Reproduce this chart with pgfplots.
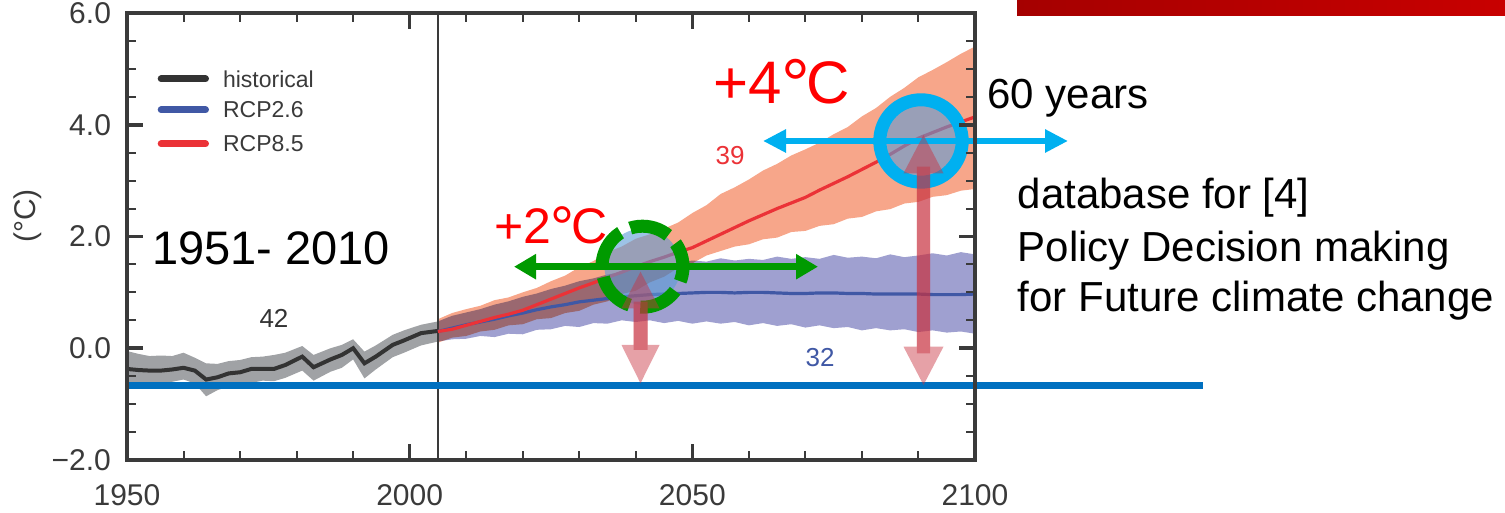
\documentclass[border=0pt]{standalone}
\usepackage{fontspec}
\setmainfont{Liberation Sans}
\usepackage{graphicx}
\usepackage{pgfplots}
\usepackage{pgfplotstable}
\pgfplotsset{compat=1.18}
\usepgfplotslibrary{fillbetween}
\usetikzlibrary{arrows.meta}

\definecolor{histline}{HTML}{333333}
\definecolor{histband}{HTML}{A0A2A5}
\definecolor{blueline}{HTML}{4058A5}
\definecolor{blueband}{HTML}{9FA0D0}
\definecolor{redline}{HTML}{EB3237}
\definecolor{redband}{HTML}{F7A68A}
\definecolor{axcol}{HTML}{3A3A3A}
\definecolor{baseblue}{HTML}{0070C0}
\definecolor{disc}{HTML}{5B9BD5}
\definecolor{cyanc}{HTML}{00B0F0}
\definecolor{greenc}{HTML}{009A00}
\definecolor{pinkc}{HTML}{C83240}
\definecolor{barL}{HTML}{A50000}
\definecolor{barR}{HTML}{C80000}

\newcommand{\degC}{\kern-0.02em\raisebox{-0.1em}{\scalebox{1.2}{°}}\kern-0.06em C}

\pgfplotstableread{
year mean lo hi
1950 -0.37 -0.63 -0.05
1952 -0.39 -0.62 -0.10
1954 -0.40 -0.63 -0.14
1956 -0.40 -0.62 -0.13
1958 -0.38 -0.60 -0.14
1960 -0.35 -0.56 -0.08
1962 -0.40 -0.63 -0.17
1964 -0.56 -0.86 -0.27
1966 -0.52 -0.75 -0.28
1968 -0.45 -0.68 -0.23
1970 -0.43 -0.66 -0.21
1972 -0.37 -0.62 -0.16
1974 -0.37 -0.58 -0.15
1976 -0.37 -0.59 -0.12
1978 -0.30 -0.53 -0.08
1981 -0.15 -0.40 0.04
1983 -0.34 -0.58 -0.12
1986 -0.20 -0.42 0.00
1988 -0.12 -0.35 0.06
1990 0.00 -0.20 0.16
1992 -0.27 -0.54 -0.06
1994 -0.15 -0.38 0.05
1997 0.06 -0.16 0.24
1999 0.14 -0.08 0.32
2002 0.27 0.05 0.42
2005 0.31 0.12 0.48
}\hist

\pgfplotstableread{
year mean lo hi
2005 0.30 0.12 0.48
2007.5 0.36 0.16 0.58
2010 0.42 0.17 0.64
2012.5 0.47 0.22 0.70
2015 0.52 0.20 0.78
2017.5 0.58 0.26 0.84
2020 0.63 0.25 0.92
2022.5 0.69 0.33 0.98
2025 0.74 0.34 1.06
2027.5 0.78 0.40 1.12
2030 0.83 0.38 1.20
2032.5 0.86 0.45 1.25
2035 0.89 0.44 1.32
2037.5 0.92 0.50 1.36
2040 0.94 0.47 1.42
2042.5 0.96 0.50 1.46
2045 0.97 0.45 1.50
2047.5 0.98 0.49 1.52
2050 0.99 0.44 1.57
2052.5 1.00 0.48 1.55
2055 1.00 0.44 1.61
2057.5 0.99 0.47 1.57
2060 1.00 0.41 1.60
2062.5 1.00 0.45 1.58
2065 0.99 0.40 1.64
2067.5 0.98 0.43 1.60
2070 0.98 0.37 1.63
2072.5 0.99 0.41 1.60
2075 0.99 0.36 1.67
2077.5 0.98 0.38 1.62
2080 0.98 0.32 1.64
2082.5 0.97 0.36 1.61
2085 0.97 0.32 1.68
2087.5 0.97 0.34 1.63
2090 0.97 0.29 1.66
2092.5 0.96 0.32 1.70
2095 0.96 0.28 1.66
2097.5 0.96 0.30 1.72
2100 0.97 0.26 1.68
}\rcplow

\pgfplotstableread{
year mean lo hi
2005 0.30 0.10 0.52
2007.5 0.34 0.19 0.63
2010 0.41 0.22 0.70
2012.5 0.48 0.30 0.76
2015 0.55 0.33 0.86
2017.5 0.61 0.41 0.91
2020 0.68 0.43 1.00
2022.5 0.78 0.52 1.08
2025 0.88 0.54 1.20
2027.5 0.98 0.63 1.30
2030 1.08 0.67 1.45
2032.5 1.17 0.78 1.56
2035 1.27 0.84 1.72
2037.5 1.36 0.97 1.82
2040 1.46 1.03 1.96
2042.5 1.55 1.18 2.04
2045 1.63 1.28 2.14
2047.5 1.72 1.44 2.25
2050 1.80 1.52 2.42
2052.5 1.92 1.66 2.56
2055 2.04 1.74 2.76
2057.5 2.16 1.82 2.88
2060 2.28 1.86 3.02
2062.5 2.39 1.95 3.18
2065 2.50 1.98 3.30
2067.5 2.60 2.08 3.45
2070 2.70 2.10 3.56
2072.5 2.83 2.19 3.68
2075 2.95 2.22 3.83
2077.5 3.07 2.32 3.96
2080 3.20 2.35 4.15
2082.5 3.33 2.45 4.30
2085 3.47 2.49 4.50
2087.5 3.62 2.59 4.66
2090 3.76 2.62 4.85
2092.5 3.86 2.71 4.98
2095 3.96 2.74 5.12
2097.5 4.05 2.82 5.27
2100 4.14 2.85 5.40
}\rcphigh

\begin{document}
\begin{tikzpicture}
\begin{axis}[
  scale only axis, width=424pt, height=223.5pt,
  xmin=1950, xmax=2100, ymin=-2, ymax=6,
  xtick={1950,2000,2050,2100}, xticklabels={1950,2000,2050,2100},
  ytick={-2,0,2,4,6}, yticklabels={−2.0,0.0,2.0,4.0,6.0},
  minor x tick num=4, minor y tick num=3,
  tick align=inside,
  major tick length=8pt, minor tick length=4.5pt,
  major tick style={line width=1.8pt, color=axcol},
  minor tick style={line width=1pt, color=axcol},
  axis line style={line width=1.8pt, color=axcol},
  axis on top,
  ticklabel style={font=\fontsize{15}{18}\selectfont, text=axcol},
  xticklabel style={yshift=-8.5pt},
  yticklabel style={xshift=-4.5pt},
]
% historical band
\addplot[name path=hU, draw=none, forget plot] table[x=year,y=hi]{\hist};
\addplot[name path=hL, draw=none, forget plot] table[x=year,y=lo]{\hist};
\addplot[fill=histband, draw=none, forget plot] fill between[of=hU and hL];
% RCP2.6 band
\addplot[name path=bU, draw=none, forget plot] table[x=year,y=hi]{\rcplow};
\addplot[name path=bL, draw=none, forget plot] table[x=year,y=lo]{\rcplow};
\addplot[fill=blueband, draw=none, forget plot] fill between[of=bU and bL];
% RCP8.5 band
\addplot[name path=rU, draw=none, forget plot] table[x=year,y=hi]{\rcphigh};
\addplot[name path=rL, draw=none, forget plot] table[x=year,y=lo]{\rcphigh};
\addplot[fill=redband, draw=none, blend mode=multiply, forget plot] fill between[of=rU and rL];
% vertical line at 2005
\addplot[axcol, line width=1pt, forget plot] coordinates {(2005,-2) (2005,6)};
% mean lines
\addplot[histline, line width=2pt] table[x=year,y=mean]{\hist};
\addplot[blueline, line width=1.6pt] table[x=year,y=mean]{\rcplow};
\addplot[redline, line width=1.6pt] table[x=year,y=mean]{\rcphigh};
\end{axis}

\begin{scope}[shift={(-63.5pt,230pt)}, x=0.5pt, y=-0.5pt]
  % top red bar
  \shade[left color=barL, right color=barR] (1017,0.5) rectangle (1505,15.5);
  % legend
  \draw[histline, line width=3.5pt, line cap=round] (161.2,79) -- (205.5,79);
  \draw[blueline, line width=3.5pt, line cap=round] (161.2,110) -- (205.5,110);
  \draw[redline, line width=3.5pt, line cap=round] (161.2,144) -- (205.5,144);
  \node[anchor=west, inner sep=0, text=axcol, font=\fontsize{11.5}{14}\selectfont] at (222.7,79) {historical};
  \node[anchor=west, inner sep=0, text=axcol, font=\fontsize{11.5}{14}\selectfont] at (222.7,110) {RCP2.6};
  \node[anchor=west, inner sep=0, text=axcol, font=\fontsize{11.5}{14}\selectfont] at (222.7,144) {RCP8.5};
  % y label
  \node[rotate=90, text=axcol, font=\fontsize{15}{18}\selectfont] at (28,216) {(°C)};
  % small numbers
  \node[text=histline, font=\fontsize{13}{15}\selectfont] at (274,318) {42};
  \node[text=redline, font=\fontsize{13}{15}\selectfont] at (730,156) {39};
  \node[text=blueline, font=\fontsize{13}{15}\selectfont] at (820,358) {32};
  % period text
  \node[font=\fontsize{23.5}{28}\selectfont] at (271,248) {1951- 2010};
  % baseline
  \draw[baseblue, line width=3.5pt] (127,385.3) -- (1203,385.3);
  % discs
  \fill[disc, fill opacity=0.6] (642.5,266.7) circle[radius=19pt];
  \fill[disc, fill opacity=0.6] (921,141) circle[radius=20pt];
  % rings
  \draw[greenc, line width=6.5pt, dash pattern=on 20pt off 5.45pt, dash phase=7.5pt] (642.5,266.7) circle[radius=20.25pt];
  \draw[cyanc, line width=6.5pt] (921,141) circle[radius=20.6pt];
  % horizontal arrows
  \draw[greenc, line width=3.3pt, {Triangle[length=11pt,width=12pt]}-{Triangle[length=11pt,width=12pt]}] (514,266.7) -- (818,266.7);
  \draw[cyanc, line width=3.3pt, {Triangle[length=11.5pt,width=11pt]}-{Triangle[length=11.5pt,width=11pt]}] (763,141) -- (1068,141);
  % pink arrows (left)
  \fill[pinkc, fill opacity=0.46] (640.5,271.7) -- (659.5,308.3) -- (647.5,308.3) -- (647.5,350) -- (633.5,350) -- (633.5,308.3) -- (621.5,308.3) -- cycle;
  \fill[pinkc, fill opacity=0.46] (633.5,301.7) -- (647.5,301.7) -- (647.5,345) -- (659.5,345) -- (640.5,383.3) -- (621.5,345) -- (633.5,345) -- cycle;
  % pink arrows (right)
  \fill[pinkc, fill opacity=0.46] (923.5,135) -- (943.5,173.3) -- (930.2,173.3) -- (930.2,353.3) -- (916.8,353.3) -- (916.8,173.3) -- (903.5,173.3) -- cycle;
  \fill[pinkc, fill opacity=0.46] (916.8,166.7) -- (930.2,166.7) -- (930.2,346.7) -- (943.5,346.7) -- (923.5,385) -- (903.5,346.7) -- (916.8,346.7) -- cycle;
  % big labels
  \node[text=red, font=\fontsize{25}{30}\selectfont] at (551,228) {+2\degC};
  \node[text=red, font=\fontsize{30}{36}\selectfont] at (781.7,84.5) {+4\degC};
  % right text
  \node[anchor=base west, inner sep=0, font=\fontsize{21}{25}\selectfont] at (987,108.3) {60 years};
  \node[anchor=base west, inner sep=0, font=\fontsize{21}{25}\selectfont] at (1017.3,208.3) {database for [4]};
  \node[anchor=base west, inner sep=0, font=\fontsize{21}{25}\selectfont] at (1017.3,261.7) {Policy Decision making};
  \node[anchor=base west, inner sep=0, font=\fontsize{21}{25}\selectfont] at (1017.3,311.7) {for Future climate change};
  % bounding box
  \pgfresetboundingbox
  \useasboundingbox (0,0) rectangle (1505,513);
\end{scope}
\end{tikzpicture}
\end{document}
